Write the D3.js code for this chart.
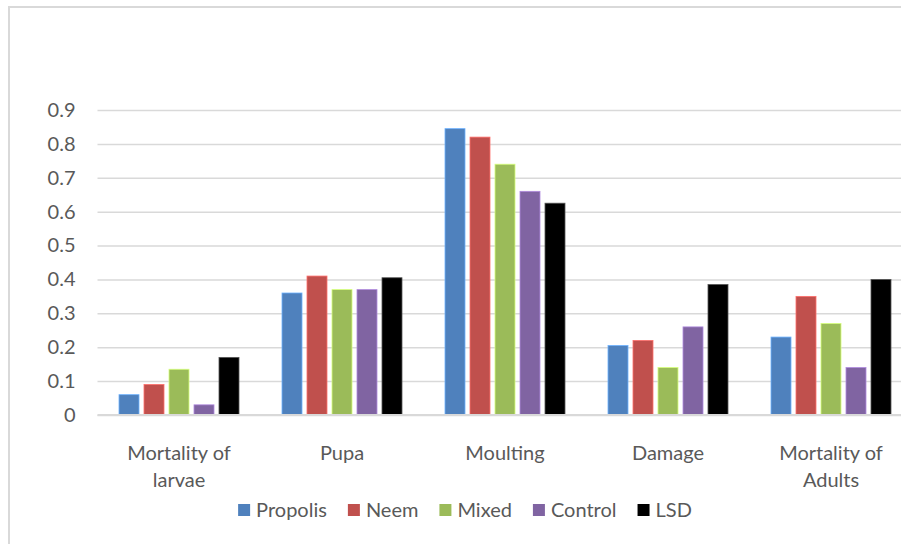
<!DOCTYPE html>
<html>
<head>
<meta charset="utf-8">
<script src="https://cdn.jsdelivr.net/npm/d3@7/dist/d3.min.js"></script>
<style>
  html, body { margin: 0; padding: 0; background: #fff; }
  svg { display: block; }
  text { font-family: Lato, "Open Sans", sans-serif; fill: #595959; }
</style>
</head>
<body>
<svg id="chart" width="901" height="544"></svg>
<script>
// Category groups along the x axis (label lines)
const categories = ["Mortality of larvae", "Pupa", "Moulting", "Damage", "Mortality of Adults"];
const categoryLines = [["Mortality of", "larvae"], ["Pupa"], ["Moulting"], ["Damage"], ["Mortality of", "Adults"]];

// Treatment series
const seriesNames = ["Propolis", "Neem", "Mixed", "Control", "LSD"];
const seriesColors = ["#4F81BD", "#C0504D", "#9BBB59", "#8064A2", "#000000"];

const propolis = [0.06, 0.36, 0.845, 0.205, 0.23];
const neem     = [0.09, 0.41, 0.82, 0.22, 0.35];
const mixed    = [0.135, 0.37, 0.74, 0.14, 0.27];
const control  = [0.03, 0.37, 0.66, 0.26, 0.14];
const lsd      = [0.17, 0.405, 0.625, 0.385, 0.40];

const yTicks = [0, 0.1, 0.2, 0.3, 0.4, 0.5, 0.6, 0.7, 0.8, 0.9];
const yTickLabels = ["0", "0.1", "0.2", "0.3", "0.4", "0.5", "0.6", "0.7", "0.8", "0.9"];

const seriesValues = [propolis, neem, mixed, control, lsd];

const svg = d3.select("#chart");

// chart area frame (extends past the right and bottom edges)
svg.append("rect")
  .attr("x", 9).attr("y", 7)
  .attr("width", 960).attr("height", 600)
  .attr("fill", "#fff")
  .attr("stroke", "#D9D9D9")
  .attr("stroke-width", 2);

const plot = { left: 97.5, right: 912.5, top: 110, bottom: 415 };

const gapRatio = 43 / 163;
const x0 = d3.scaleBand()
  .domain(categories)
  .range([plot.left, plot.right])
  .paddingInner(gapRatio)
  .paddingOuter(gapRatio / 2);

const x1 = d3.scaleBand()
  .domain(seriesNames)
  .range([0, x0.bandwidth()])
  .paddingInner(0.2)
  .paddingOuter(0);

const y = d3.scaleLinear().domain([0, 0.9]).range([plot.bottom, plot.top]);

// horizontal gridlines + y axis labels
const yAxis = d3.axisLeft(y)
  .tickValues(yTicks)
  .tickFormat((d, i) => yTickLabels[i])
  .tickSize(-(plot.right - plot.left))
  .tickPadding(22);

const yg = svg.append("g")
  .attr("transform", `translate(${plot.left},0)`)
  .call(yAxis);
yg.select(".domain").remove();
yg.selectAll(".tick line")
  .attr("stroke", "#D9D9D9")
  .attr("stroke-width", 1.5);
yg.selectAll(".tick text")
  .style("font-family", "Lato, 'Open Sans', sans-serif")
  .style("font-size", "20px")
  .attr("fill", "#595959");

// bars
const rows = categories.map((c, ci) => ({
  category: c,
  values: seriesNames.map((s, si) => ({ series: s, color: seriesColors[si], value: seriesValues[si][ci] }))
}));

const groups = svg.append("g").selectAll("g")
  .data(rows)
  .join("g")
  .attr("transform", d => `translate(${x0(d.category)},0)`);

groups.selectAll("rect")
  .data(d => d.values)
  .join("rect")
  .attr("x", d => x1(d.series))
  .attr("width", x1.bandwidth())
  .attr("y", d => y(d.value))
  .attr("height", d => y(0) - y(d.value))
  .attr("fill", d => d.color)
  .attr("stroke", d => d.series === "LSD" ? "#555" : d3.color(d.color).brighter(0.9))
  .attr("stroke-width", 0.8);

// baseline
svg.append("line")
  .attr("x1", plot.left).attr("x2", plot.right)
  .attr("y1", y(0)).attr("y2", y(0))
  .attr("stroke", "#D9D9D9")
  .attr("stroke-width", 2);

// category labels
const xl = svg.append("g");
categories.forEach((c, i) => {
  const t = xl.append("text")
    .attr("text-anchor", "middle")
    .attr("x", x0(c) + x0.bandwidth() / 2)
    .attr("y", 460)
    .style("font-size", "20px");
  categoryLines[i].forEach((line, li) => {
    t.append("tspan")
      .attr("x", x0(c) + x0.bandwidth() / 2)
      .attr("dy", li === 0 ? 0 : 27)
      .text(line);
  });
});

// legend
const legend = svg.append("g");
const items = legend.selectAll("g")
  .data(seriesNames)
  .join("g");
items.append("rect")
  .attr("width", 12).attr("height", 12)
  .attr("y", 504)
  .attr("fill", (d, i) => seriesColors[i]);
items.append("text")
  .attr("x", 18)
  .attr("y", 517)
  .style("font-size", "20px")
  .text(d => d);

let offset = 0;
const positions = [];
items.each(function () {
  const w = d3.select(this).select("text").node().getComputedTextLength();
  positions.push(offset);
  offset += 18 + w + 21;
});
const totalWidth = offset - 21;
const legendStart = 465 - totalWidth / 2;
items.attr("transform", (d, i) => `translate(${legendStart + positions[i]},0)`);
</script>
</body>
</html>
